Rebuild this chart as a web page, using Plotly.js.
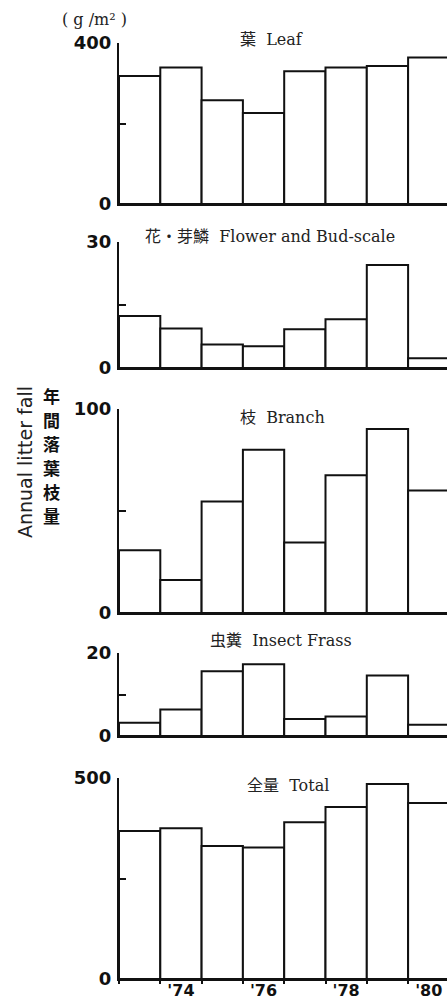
<!DOCTYPE html>
<html>
<head>
<meta charset="utf-8">
<script src="https://cdn.plot.ly/plotly-3.0.1.min.js"></script>
<style>
  html, body { margin: 0; padding: 0; background: #fff; }
  #chart { width: 447px; height: 1003px; }
</style>
</head>
<body>
<div id="chart"></div>
<script>
// Annual litter fall by component, 1973–1980 (g/m²)
const years = [73, 74, 75, 76, 77, 78, 79, 80];
const yearTickVals = [74, 76, 78, 80];
const yearTickText = ["'74", "'76", "'78", "'80"];

const leaf   = [318, 339, 258, 226, 330, 339, 343, 364];
const flower = [12.4, 9.4, 5.6, 5.2, 9.2, 11.6, 24.5, 2.3];
const branch = [30.7, 16.2, 54.6, 80, 34.6, 67.5, 90.2, 60];
const frass  = [3.2, 6.4, 15.6, 17.3, 4.1, 4.7, 14.6, 2.7];
const total  = [368, 375, 331, 327, 390, 428, 485, 438];

const panelTitles = ['葉  Leaf', '花・芽鱗  Flower and Bud-scale', '枝  Branch', '虫糞  Insect Frass', '全量  Total'];
const panelMax = [400, 30, 100, 20, 500];
const yTitleEn = 'Annual litter fall';
const yTitleJa = ['年', '間', '落', '葉', '枝', '量'];
const unitLabel = '( g /m² )';

const series = [leaf, flower, branch, frass, total];
const H = 1003, W = 447;
// vertical pixel extent of each panel: [zero line, top]
const panelPx = [[204, 43], [368, 242], [613, 409], [736, 653], [979, 778]];
const titlePos = [[271, 40, 'center'], [143, 236, 'left'], [282, 418, 'center'], [281, 640, 'center'], [288, 785, 'center']];

const axisLeft = 119 / W;
const pxPerYear = 41.3;
const xRange = [72.5, 72.5 + (W - 119) / pxPerYear];

const serifFont = '"DejaVu Serif", "Liberation Serif", "Noto Sans CJK JP", serif';
const sansFont = '"DejaVu Sans", "Liberation Sans", Arial, sans-serif';
const ink = '#111';

const traces = [];
const layout = {
  width: W, height: H,
  margin: {l: 0, r: 0, t: 0, b: 0},
  paper_bgcolor: '#fff', plot_bgcolor: '#fff',
  showlegend: false,
  bargap: 0,
  annotations: [],
};

series.forEach((vals, i) => {
  const n = i === 0 ? '' : String(i + 1);
  traces.push({
    type: 'bar', x: years, y: vals, width: 1,
    xaxis: 'x' + n, yaxis: 'y' + n,
    marker: {color: '#fff', line: {color: ink, width: 2}},
    hoverinfo: 'skip'
  });
  const [p0, p1] = panelPx[i];
  const isBottom = i === series.length - 1;
  const xa = {
    domain: [axisLeft, 1], range: xRange,
    anchor: 'y' + n,
    showline: true, linecolor: ink, linewidth: 2,
    showgrid: false, zeroline: false,
    ticks: '',
    tickvals: isBottom ? yearTickVals : [],
    ticktext: isBottom ? yearTickText : [],
    showticklabels: isBottom,
    tickfont: {family: sansFont, size: 16, color: ink, weight: 'bold'},
    ticklabelstandoff: -4,
    fixedrange: true
  };
  if (isBottom) {
    // bar edges poke just below the baseline
    xa.minor = {tick0: 72.5, dtick: 1, ticks: 'outside', ticklen: 3, tickwidth: 2, tickcolor: ink, showgrid: false};
  }
  layout['xaxis' + n] = xa;
  layout['yaxis' + n] = {
    domain: [1 - p0 / H, 1 - p1 / H],
    range: [0, panelMax[i]],
    anchor: 'x' + n,
    showline: true, linecolor: ink, linewidth: 2,
    showgrid: false, zeroline: false,
    ticks: 'inside', ticklen: 7, tickwidth: 2, tickcolor: ink,
    tickvals: [0, panelMax[i] / 2, panelMax[i]],
    ticktext: ['0', '', String(panelMax[i])],
    tickfont: {family: sansFont, size: 18, color: ink, weight: 'bold'},
    ticklabelstandoff: 2,
    fixedrange: true
  };
  const [tx, ty, anchor] = titlePos[i];
  layout.annotations.push({
    xref: 'paper', yref: 'paper', x: tx / W, y: 1 - ty / H,
    xanchor: anchor, yanchor: 'middle', showarrow: false,
    text: panelTitles[i],
    font: {family: serifFont, size: 16, color: '#222'}
  });
});

// unit label
layout.annotations.push({
  xref: 'paper', yref: 'paper', x: 94 / W, y: 1 - 19 / H,
  xanchor: 'center', yanchor: 'middle', showarrow: false,
  text: unitLabel,
  font: {family: serifFont, size: 16, color: '#222'}
});
// English axis title, rotated
layout.annotations.push({
  xref: 'paper', yref: 'paper', x: 25 / W, y: 1 - 462 / H,
  xanchor: 'center', yanchor: 'middle', showarrow: false, textangle: -90,
  text: yTitleEn,
  font: {family: sansFont, size: 19, color: '#222'}
});
// Japanese axis title, one character per row
yTitleJa.forEach((ch, k) => {
  layout.annotations.push({
    xref: 'paper', yref: 'paper', x: 51 / W, y: 1 - (395 + k * 24) / H,
    xanchor: 'center', yanchor: 'middle', showarrow: false,
    text: ch,
    font: {family: '"Noto Sans CJK JP", sans-serif', size: 17, color: ink, weight: 'bold'}
  });
});

Plotly.newPlot('chart', traces, layout, {displayModeBar: false, staticPlot: true});
</script>
</body>
</html>
